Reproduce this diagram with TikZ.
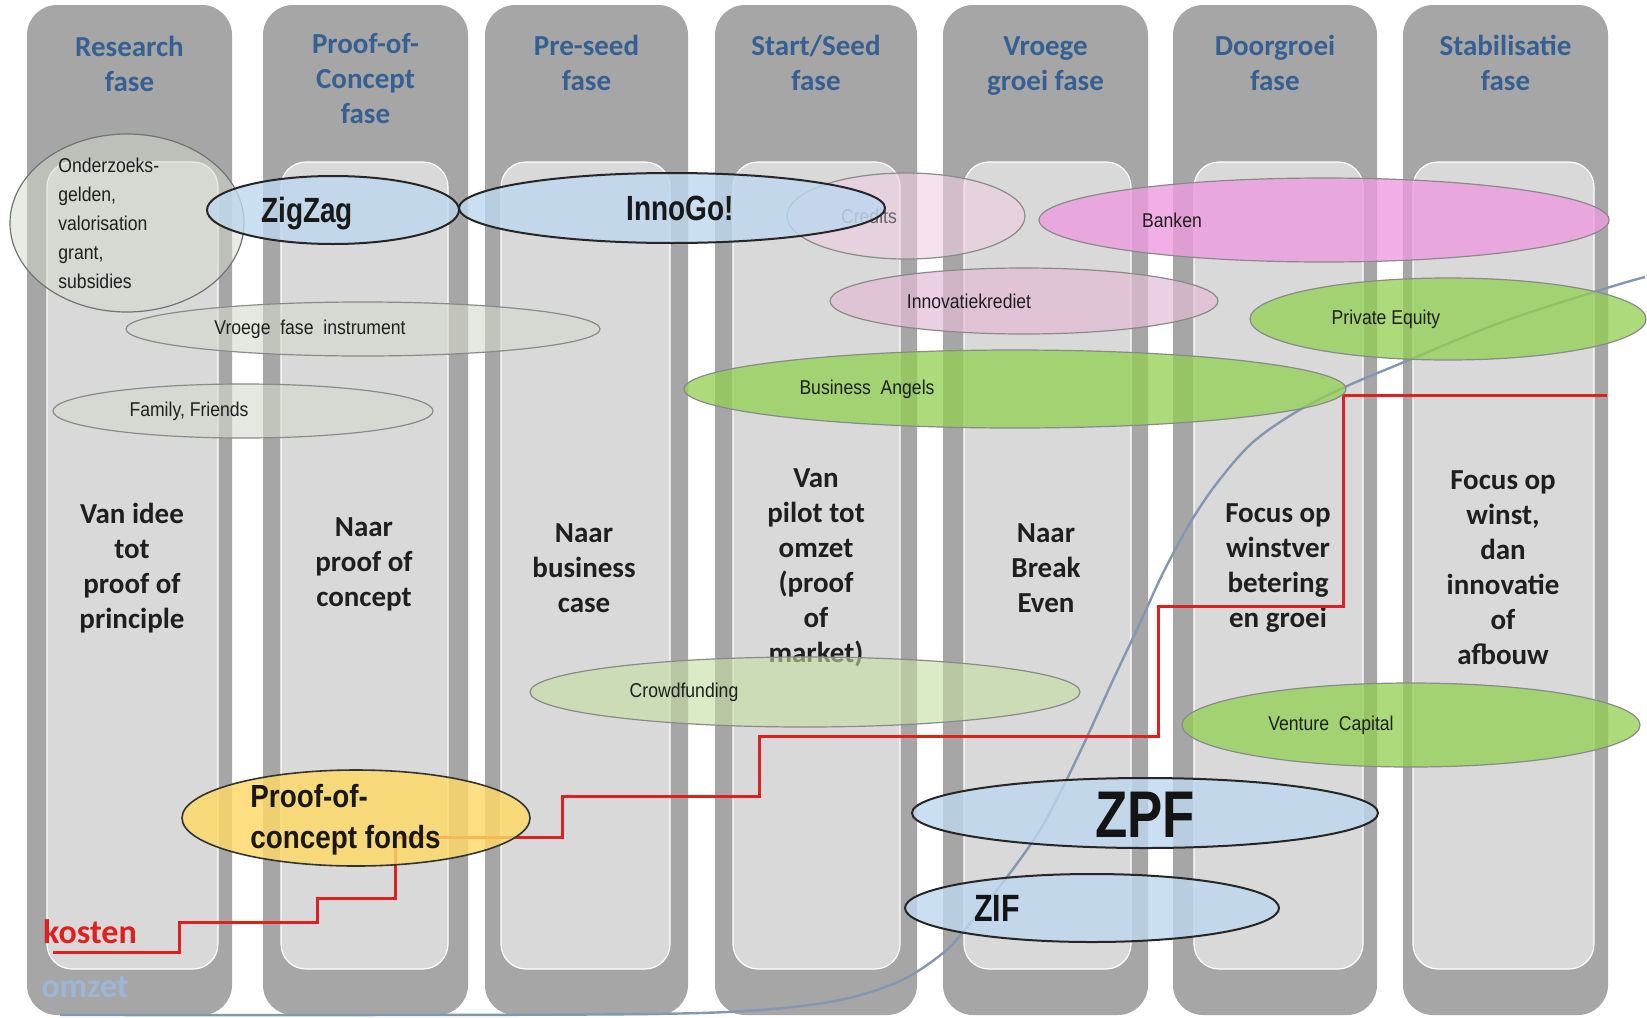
\documentclass[tikz,border=0pt]{standalone}
\usepackage{fontspec}
\setmainfont{Carlito}
\newfontfamily\arn[FakeStretch=0.88]{Liberation Sans}
\newfontfamily\arb[FakeStretch=0.8]{Liberation Sans}
\newfontfamily\arc[FakeStretch=0.87]{Liberation Sans}
\usetikzlibrary{shapes.geometric}
\definecolor{outerg}{HTML}{A6A6A6}
\definecolor{innerg}{HTML}{D9D9D9}
\definecolor{headblue}{HTML}{366092}
\definecolor{ellgray}{HTML}{8A8A8A}
\definecolor{redl}{HTML}{E01F1F}
\definecolor{omzetc}{HTML}{8497B0}
\definecolor{omzett}{HTML}{9DB5D6}
\definecolor{graygreen}{HTML}{D5D9CC}
\definecolor{credc}{HTML}{F0CDE4}
\definecolor{innovc}{HTML}{E3BCD6}
\definecolor{bankc}{HTML}{EE9CDF}
\definecolor{greenc}{HTML}{92D050}
\definecolor{crowdc}{HTML}{C4DEA0}
\definecolor{pocc}{HTML}{FFD966}
\definecolor{bluec}{HTML}{BDD7EE}
\tikzset{
  colout/.style={fill=outerg, draw=none, rounded corners=15pt, inner sep=0pt},
  colin/.style={fill=innerg, draw=white, line width=0.6pt, rounded corners=12.5pt, inner sep=0pt},
  head/.style={text=headblue, font=\fontsize{14.5}{17.5}\selectfont\bfseries, align=center, inner sep=0pt},
  body/.style={text=black!88, font=\fontsize{14.5}{17.5}\selectfont\bfseries, align=center, inner sep=0pt},
  ell/.style={ellipse, inner sep=0pt, draw=ellgray, line width=0.6pt},
  ellb/.style={ellipse, inner sep=0pt, draw=black!85, line width=1pt, fill=bluec, fill opacity=0.8},
  ellg/.style={ell, fill=greenc, fill opacity=0.75},
  lbl/.style={font=\arn\fontsize{10}{14.5}\selectfont, text=black!88, inner sep=0pt},
  bigl/.style={font=\arb\bfseries\fontsize{17.5}{20}\selectfont, text=black!90, inner sep=0pt},
  redline/.style={draw=redl, line width=1.5pt},
  omzetline/.style={draw=omzetc, line width=1.2pt},
}
\begin{document}
\begin{tikzpicture}[x=0.5pt,y=-0.5pt]
\useasboundingbox[fill=white] (0,0) rectangle (1647,1017);

% columns: outer
\node[colout, minimum width=102.5pt, minimum height=505pt] (o1) at (129.5,510) {};
\node[colout, minimum width=102.5pt, minimum height=505pt] (o2) at (365.5,510) {};
\node[colout, minimum width=101.5pt, minimum height=505pt] (o3) at (586.5,510) {};
\node[colout, minimum width=101pt, minimum height=505pt] (o4) at (816,510) {};
\node[colout, minimum width=102.5pt, minimum height=505pt] (o5) at (1045.5,510) {};
\node[colout, minimum width=102pt, minimum height=505pt] (o6) at (1275,510) {};
\node[colout, minimum width=102.5pt, minimum height=505pt] (o7) at (1505.5,510) {};
% columns: inner
\node[colin, minimum width=85.5pt, minimum height=403.5pt] (i1) at (132.5,565.5) {};
\node[colin, minimum width=83.5pt, minimum height=403.5pt] (i2) at (364.5,565.5) {};
\node[colin, minimum width=84.5pt, minimum height=403.5pt] (i3) at (585.5,565.5) {};
\node[colin, minimum width=83.5pt, minimum height=403.5pt] (i4) at (816.5,565.5) {};
\node[colin, minimum width=83.5pt, minimum height=403.5pt] (i5) at (1047.5,565.5) {};
\node[colin, minimum width=84.5pt, minimum height=403.5pt] (i6) at (1278.5,565.5) {};
\node[colin, minimum width=90.5pt, minimum height=403.5pt] (i7) at (1503.5,565.5) {};

% headings
\node[head] (h1) at (129.5,64) {Research\\fase};
\node[head] (h2) at (365.5,79) {Proof-of-\\Concept\\fase};
\node[head] (h3) at (586.5,63) {Pre-seed\\fase};
\node[head] (h4) at (816,63) {Start/Seed\\fase};
\node[head] (h5) at (1045.5,66) {Vroege\\groei fase};
\node[head] (h6) at (1275,63) {Doorgroei\\fase};
\node[head] (h7) at (1505.5,63) {Stabilisatie\\fase};

% body texts
\node[body] (b1) at (132,568) {Van idee\\tot\\proof of\\principle};
\node[body] (b2) at (364,564) {Naar\\proof of\\concept};
\node[body] (b3) at (584,568) {Naar\\business\\case};
\node[body] (b4) at (816,568) {Van\\pilot tot\\omzet\\(proof\\of\\market)};
\node[body] (b5) at (1046,568) {Naar\\Break\\Even};
\node[body] (b6) at (1278,568) {Focus op\\winstver\\betering\\en groei};
\node[body] (b7) at (1503,568) {Focus op\\winst,\\dan\\innovatie\\of\\afbouw};

% omzet curve
\draw[omzetline] plot[smooth, tension=0.55] coordinates {(60,1015) (400,1015) (650,1014) (760,1010) (840,1000) (900,981) (943,953) (967,927) (1010,873) (1040,830) (1063,787) (1087,737) (1113,680) (1140,623) (1163,573) (1190,523) (1217,483) (1252,443) (1296,412) (1345,387) (1397,365) (1502,322) (1607,288) (1645,277)};

% kosten line
\draw[redline] (53,952) -- (179,952) -- (179,922) -- (317,922) -- (317,898) -- (395,898) -- (395,837) -- (562,837) -- (562,796) -- (759,796) -- (759,736) -- (1158,736) -- (1158,606) -- (1343,606) -- (1343,395) -- (1607,395);

\node[font=\fontsize{17}{20}\selectfont\bfseries, text=redl, inner sep=0pt] (kosten) at (90,932) {kosten};
\node[font=\fontsize{17}{20}\selectfont\bfseries, text=omzett, inner sep=0pt] (omzet) at (85,987) {omzet};

% ellipses
\node[ell, draw=black!55, fill=graygreen, fill opacity=0.5, minimum width=117pt, minimum height=89pt] (onder) at (127,223) {};
\node[lbl, anchor=west, align=left] (onderT) at (58,223) {Onderzoeks-\\gelden,\\valorisation\\grant,\\subsidies};

\node[ell, fill=graygreen, fill opacity=0.6, minimum width=237pt, minimum height=27pt] (vroege) at (363,329) {};
\node[lbl] (vroegeT) at (310,329) {Vroege\ \ fase\ \ instrument};

\node[ell, fill=graygreen, fill opacity=0.6, minimum width=190pt, minimum height=27pt] (family) at (243,411) {};
\node[lbl] (familyT) at (189,411) {Family,\ Friends};

\node[ell, fill=credc, fill opacity=0.6, minimum width=119pt, minimum height=43pt] (credits) at (906,216) {};
\node[lbl, text=black!60] (creditsT) at (869,216) {Credits};

\node[ell, fill=innovc, fill opacity=0.7, minimum width=194pt, minimum height=33pt] (innov) at (1024,301) {};
\node[lbl] (innovT) at (969,301) {Innovatiekrediet};

\node[ell, fill=bankc, fill opacity=0.8, minimum width=285pt, minimum height=42pt] (banken) at (1324,220) {};
\node[lbl] (bankenT) at (1172,220) {Banken};

\node[ellg, minimum width=198pt, minimum height=41pt] (pe) at (1448,319) {};
\node[lbl] (peT) at (1386,319) {Private\ Equity};

\node[ellg, minimum width=331pt, minimum height=39pt] (ba) at (1015,389) {};
\node[lbl] (baT) at (867,389) {Business\ \ Angels};

\node[ell, fill=crowdc, fill opacity=0.6, minimum width=275pt, minimum height=35pt] (crowd) at (805,692) {};
\node[lbl] (crowdT) at (684,692) {Crowdfunding};

\node[ellg, minimum width=229pt, minimum height=42pt] (vc) at (1411,725) {};
\node[lbl] (vcT) at (1331,725) {Venture\ \ Capital};

\node[ellb, minimum width=126pt, minimum height=34pt] (zigzag) at (333,210) {};
\node[bigl] (zigzagT) at (307,214) {ZigZag};

\node[ellb, minimum width=213pt, minimum height=35pt] (innogo) at (672,208) {};
\node[bigl] (innogoT) at (680,208) {InnoGo!};

\node[ell, draw=black!80, line width=0.8pt, fill=pocc, fill opacity=0.82, minimum width=174pt, minimum height=48pt] (poc) at (356,818) {};
\node[font=\arc\bfseries\fontsize{16}{20.5}\selectfont, text=black!90, inner sep=0pt, anchor=west, align=left] (pocT) at (250,820) {Proof-of-\\concept fonds};

\node[ellb, minimum width=233pt, minimum height=35pt] (zpf) at (1145,813) {};
\node[font=\arb\bfseries\fontsize{33}{36}\selectfont, text=black!92, inner sep=0pt] (zpfT) at (1145,815) {ZPF};

\node[ellb, minimum width=187pt, minimum height=34pt] (zif) at (1092,908) {};
\node[font=\arb\bfseries\fontsize{19}{22}\selectfont, text=black!92, inner sep=0pt] (zifT) at (997,908) {ZIF};
\end{tikzpicture}
\end{document}
